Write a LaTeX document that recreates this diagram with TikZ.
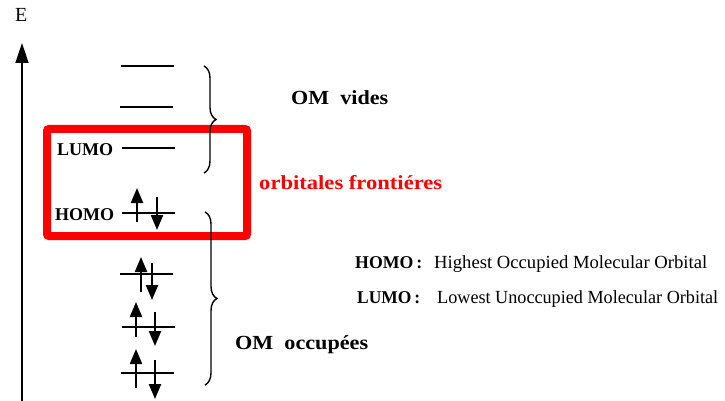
\documentclass[tikz,border=0pt]{standalone}
\usepackage{fontspec}
\usepackage{graphicx}
\setmainfont{Liberation Serif}
\usetikzlibrary{arrows.meta,decorations.pathreplacing}
\newcommand{\fitw}[2]{\resizebox{#1}{\height}{#2}}
\begin{document}
\begin{tikzpicture}[x=1pt,y=-1pt,
  level/.style={line width=1.8pt},
  spin/.style={line width=2.2pt,-{Triangle[width=12pt,length=15pt]}},
  brc/.style={decorate,decoration={brace,amplitude=12pt},line width=1.4pt},
  lvlab/.style={font=\bfseries\fontsize{18}{20}\selectfont,anchor=base west,inner sep=0pt},
  big/.style={font=\bfseries\fontsize{20}{22}\selectfont,anchor=base west,inner sep=0pt},
  legr/.style={font=\fontsize{18.5}{21}\selectfont,anchor=base west,inner sep=0pt}]
\useasboundingbox (0,0) rectangle (725,401);
% red frame
\draw[red,line width=8pt,rounded corners=2pt] (47,129) rectangle (247,236);
% energy axis
\coordinate (ax0) at (22,401);
\coordinate (ax1) at (22,43);
\draw[line width=1.8pt,-{Triangle[width=13pt,length=20pt]}] (ax0) -- (ax1);
\node[anchor=base west,inner sep=0pt,font=\fontsize{20}{22}\selectfont] (E) at (15,22) {E};
% empty levels
\draw[level] (121,66) -- (174,66);
\draw[level] (120,107) -- (173,107);
\draw[level] (122,148) -- (175,148);
\node[lvlab] (lumo) at (57,155) {LUMO};
% HOMO
\draw[level] (122,213) -- (175,213);
\node[lvlab] (homo) at (55,220) {HOMO};
\draw[spin] (137,222) -- (137,188);
\draw[spin] (157,197) -- (157,230);
% occupied levels
\draw[level] (120,274) -- (173,274);
\draw[spin] (141,292) -- (141,257);
\draw[spin] (152,263) -- (152,300);
\draw[level] (122,327) -- (175,327);
\draw[spin] (136,337) -- (136,302);
\draw[spin] (155,312) -- (155,346);
\draw[level] (121,373) -- (174,373);
\draw[spin] (136,388) -- (136,349);
\draw[spin] (155,360) -- (155,399);
% braces
\coordinate (b1t) at (204,66);
\coordinate (b1b) at (204,173);
\draw[brc] (b1t) -- (b1b);
\coordinate (b2t) at (205,212);
\coordinate (b2b) at (205,385);
\draw[brc] (b2t) -- (b2b);
% texts
\node[big] (vides) at (291,105) {\fitw{97pt}{OM\enspace vides}};
\node[big,red] (front) at (259,189) {\fitw{183pt}{orbitales frontiéres}};
\node[big] (occ) at (235,349) {\fitw{133pt}{OM\enspace occupées}};
\node[lvlab] (lh) at (355,268) {\fitw{67pt}{HOMO\,:}};
\node[legr] (lhd) at (434,268) {\fitw{273pt}{Highest Occupied Molecular Orbital}};
\node[lvlab] (ll) at (357,303) {\fitw{63pt}{LUMO\,:}};
\node[legr] (lld) at (437,303) {\fitw{281pt}{Lowest Unoccupied Molecular Orbital}};
\end{tikzpicture}
\end{document}
